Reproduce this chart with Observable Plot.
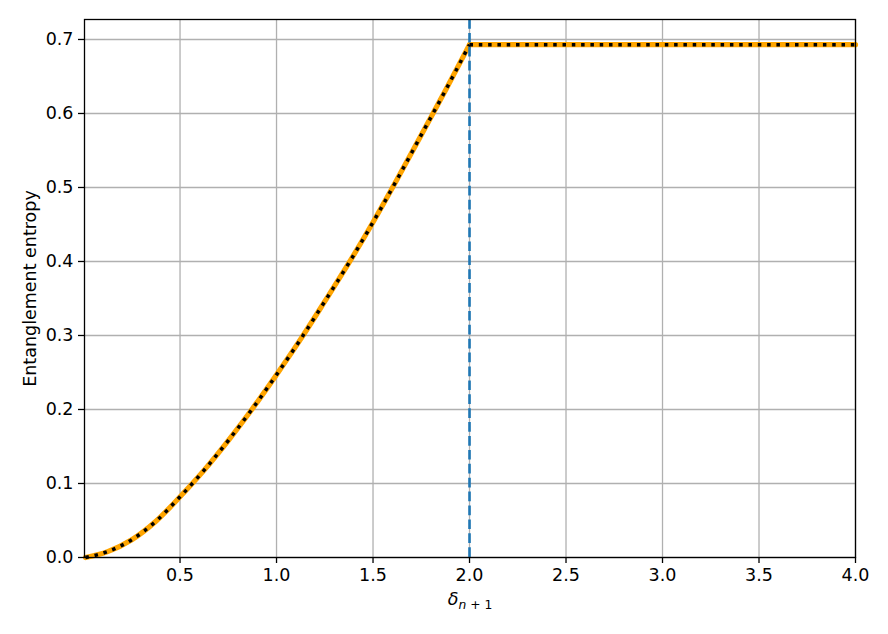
<!DOCTYPE html>
<html>
<head>
<meta charset="utf-8">
<script src="https://cdn.jsdelivr.net/npm/d3@7"></script>
<script src="https://cdn.jsdelivr.net/npm/@observablehq/plot@0.6"></script>
<style>
  html, body { margin: 0; padding: 0; background: white; }
  svg { display: block; }
</style>
</head>
<body>
<div id="chart"></div>
<script>
// Values
const deltaRise = [0.01, 0.125, 0.25, 0.375, 0.5, 0.625, 0.75, 0.875, 1.0, 1.125, 1.25, 1.375, 1.5, 1.625, 1.75, 1.875, 2.0];
const entropyRise = [0.0, 0.008, 0.024, 0.049, 0.082, 0.118, 0.158, 0.201, 0.247, 0.295, 0.346, 0.398, 0.453, 0.511, 0.571, 0.631, 0.693];
const deltaFlat = [2.0, 4.0];
const entropyFlat = [0.693, 0.693];
const criticalDelta = [2.0];
const xTicks = [0.5, 1.0, 1.5, 2.0, 2.5, 3.0, 3.5, 4.0];
const yTicks = [0.0, 0.1, 0.2, 0.3, 0.4, 0.5, 0.6, 0.7];
const yLabel = "Entanglement entropy";

const rise = deltaRise.map((d, i) => ({x: d, y: entropyRise[i]}));
const flat = deltaFlat.map((d, i) => ({x: d, y: entropyFlat[i]}));

const font = "DejaVu Sans";
const fs = 17.5;
const gridStyle = {stroke: "#b0b0b0", strokeOpacity: 1, strokeWidth: 1.3};

const chart = Plot.plot({
  width: 888,
  height: 634,
  marginLeft: 84,
  marginRight: 33,
  marginTop: 19,
  marginBottom: 77,
  style: {fontFamily: font, fontSize: fs + "px", background: "white", color: "black"},
  x: {domain: [0.005, 4.0]},
  y: {domain: [0, 0.727]},
  marks: [
    Plot.gridX(xTicks, gridStyle),
    Plot.gridY(yTicks, gridStyle),
    Plot.line(rise, {x: "x", y: "y", stroke: "orange", strokeWidth: 5.2, curve: "monotone-x"}),
    Plot.line(flat, {x: "x", y: "y", stroke: "orange", strokeWidth: 5.2}),
    Plot.line(rise, {x: "x", y: "y", stroke: "black", strokeWidth: 3.5, strokeDasharray: "3.5,5.8", strokeLinecap: "butt", curve: "monotone-x"}),
    Plot.line(flat, {x: "x", y: "y", stroke: "black", strokeWidth: 3.5, strokeDasharray: "3.5,5.8", strokeLinecap: "butt"}),
    Plot.ruleX(criticalDelta, {stroke: "#1f77b4", strokeWidth: 2.6, strokeDasharray: "9.7,4.2"}),
    Plot.frame({stroke: "black", strokeWidth: 1.3}),
    Plot.axisX(xTicks, {tickSize: 6, tickPadding: 5, tickFormat: d3.format(".1f"), label: null, fontSize: fs, strokeWidth: 1.3}),
    Plot.axisY(yTicks, {tickSize: 6, tickPadding: 5, tickFormat: d3.format(".1f"), label: null, fontSize: fs, strokeWidth: 1.3}),
    Plot.text([yLabel], {frameAnchor: "left", dx: -54, rotate: -90, text: d => d, textAnchor: "middle", lineAnchor: "middle", fontSize: fs, className: "ylab"}),
    Plot.text(["δ"], {frameAnchor: "bottom", dy: 42, text: d => d, textAnchor: "middle", lineAnchor: "middle", fontSize: fs, className: "xlab"})
  ]
});

document.getElementById("chart").appendChild(chart);

// mathtext-like label: italic delta with subscript n+1
const xt = d3.select(chart).select(".xlab text");
xt.text(null);
xt.append("tspan").attr("font-style", "italic").text("δ");
xt.append("tspan").attr("font-size", "12.3px").attr("dy", "0.3em").attr("font-style", "italic").text("n");
xt.append("tspan").attr("font-size", "12.3px").text(" + 1");
</script>
</body>
</html>
